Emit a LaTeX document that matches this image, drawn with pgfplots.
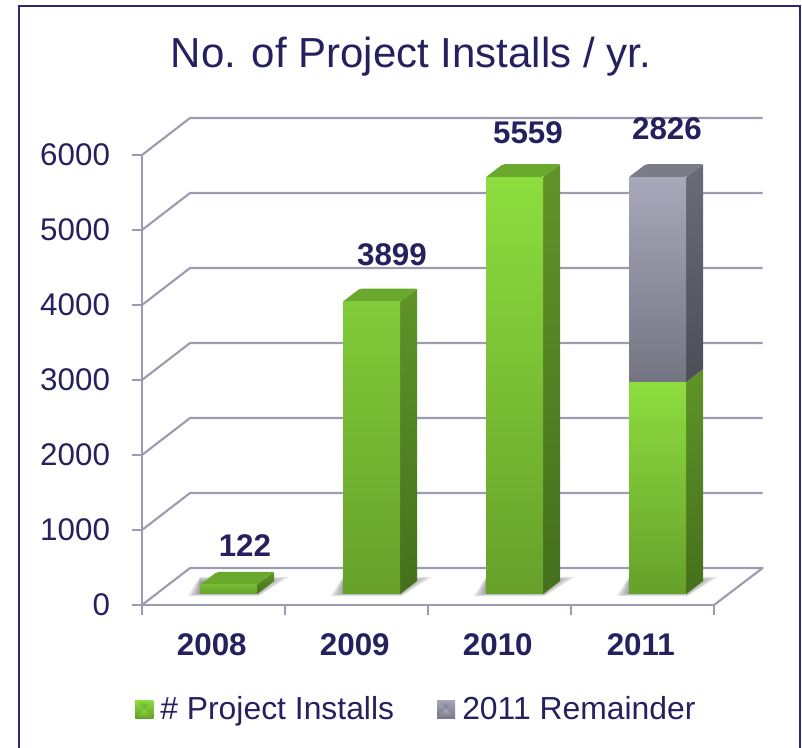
\documentclass[border=0pt]{standalone}
\usepackage{pgfplots}
\pgfplotsset{compat=1.18}
\usepackage{fontspec}
\setmainfont{Liberation Sans}
\definecolor{navy}{HTML}{25215F}
\definecolor{frameblue}{HTML}{2E2A72}
\definecolor{gridc}{HTML}{9C9CB0}
\definecolor{gTop}{HTML}{8DDD3F}
\definecolor{gBot}{HTML}{66A02A}
\definecolor{gsTop}{HTML}{5F9428}
\definecolor{gsBot}{HTML}{44701C}
\definecolor{gCap}{HTML}{6BA82E}
\definecolor{yTop}{HTML}{A9A8BA}
\definecolor{yBot}{HTML}{757482}
\definecolor{ysTop}{HTML}{6C6C78}
\definecolor{ysBot}{HTML}{4D4D58}
\definecolor{yCap}{HTML}{7C7B88}
\newcommand{\fs}[1]{\fontsize{#1}{#1}\selectfont}
\pgfplotsset{
  common/.style={
    scale only axis, width=429pt, height=337.5pt,
    xmin=0, xmax=4, ymin=0, ymax=6000, clip=false
  },
  grid line/.style={draw=gridc, line width=1.6pt, no markers, forget plot, line join=round},
  shadow/.style={draw=none, fill=black, fill opacity=0.11, no markers, forget plot},
  green bar/.style={ybar, bar width=42.75pt, bar shift=0pt, draw=none,
    top color=gTop, bottom color=gBot, forget plot}
}
\begin{document}
\begin{tikzpicture}[x=1pt,y=1pt]
\path[use as bounding box] (0,0) rectangle (601.5,561);
\draw[frameblue, line width=1.7pt] (14.5,-2) -- (14.5,556.5) -- (600,556.5) -- (600,-2);

% Axes, gridlines and floor
\begin{axis}[common,
  at={(106.5pt,107.25pt)}, anchor=south west,
  axis lines=left, axis line style={-, draw=gridc, line width=1.6pt},
  xtick={0,1,2,3,4}, x tick label as interval,
  xticklabels={2008,2009,2010,2011},
  ytick={0,1000,2000,3000,4000,5000,6000},
  tick align=outside, major tick length=7.5pt,
  tick style={draw=gridc, line width=1.4pt},
  /pgf/number format/assume math mode=true,
  /pgf/number format/1000 sep={},
  yticklabel style={text=navy, font=\fs{23.5}, xshift=-13pt},
  xticklabel style={text=navy, font=\fs{23.5}\bfseries, yshift=-10.5pt, xshift=-1.3pt},
  title={No. of Project Installs / yr.},
  title style={at={(0.470,1.2)}, anchor=center, text=navy, font=\fs{31.5}},
]
\addplot[grid line] coordinates {(0,0)(0.3357,493)(4.34,493)(4,0)};
\addplot[grid line] coordinates {(0,1000)(0.3357,1493)(4.34,1493)};
\addplot[grid line] coordinates {(0,2000)(0.3357,2493)(4.34,2493)};
\addplot[grid line] coordinates {(0,3000)(0.3357,3493)(4.34,3493)};
\addplot[grid line] coordinates {(0,4000)(0.3357,4493)(4.34,4493)};
\addplot[grid line] coordinates {(0,5000)(0.3357,5493)(4.34,5493)};
\addplot[grid line] coordinates {(0,6000)(0.3357,6493)(4.34,6493)};
\end{axis}

% Shadows, side faces, caps, three single bars, data labels
\begin{axis}[common, hide axis,
  at={(117.75pt,115.5pt)}, anchor=south west]
% shadows
\addplot[shadow] coordinates {(0.217,-27)(0.71,-27)(0.92,227)(0.30,227)} --cycle;
\addplot[shadow] coordinates {(0.24,-15)(0.71,-15)(0.88,210)(0.30,210)} --cycle;
\addplot[shadow] coordinates {(0.265,-5)(0.71,-5)(0.84,195)(0.30,195)} --cycle;
\addplot[shadow] coordinates {(0.29,0)(0.70,0)(0.81,175)(0.30,175)} --cycle;
\addplot[shadow] coordinates {(1.217,-27)(1.71,-27)(1.92,227)(1.30,227)} --cycle;
\addplot[shadow] coordinates {(1.24,-15)(1.71,-15)(1.88,210)(1.30,210)} --cycle;
\addplot[shadow] coordinates {(1.265,-5)(1.71,-5)(1.84,195)(1.30,195)} --cycle;
\addplot[shadow] coordinates {(1.29,0)(1.70,0)(1.81,175)(1.30,175)} --cycle;
\addplot[shadow] coordinates {(2.217,-27)(2.71,-27)(2.92,227)(2.30,227)} --cycle;
\addplot[shadow] coordinates {(2.24,-15)(2.71,-15)(2.88,210)(2.30,210)} --cycle;
\addplot[shadow] coordinates {(2.265,-5)(2.71,-5)(2.84,195)(2.30,195)} --cycle;
\addplot[shadow] coordinates {(2.29,0)(2.70,0)(2.81,175)(2.30,175)} --cycle;
\addplot[shadow] coordinates {(3.217,-27)(3.71,-27)(3.92,227)(3.30,227)} --cycle;
\addplot[shadow] coordinates {(3.24,-15)(3.71,-15)(3.88,210)(3.30,210)} --cycle;
\addplot[shadow] coordinates {(3.265,-5)(3.71,-5)(3.84,195)(3.30,195)} --cycle;
\addplot[shadow] coordinates {(3.29,0)(3.70,0)(3.81,175)(3.30,175)} --cycle;
% side faces
\addplot[draw=none, top color=gsTop, bottom color=gsBot, forget plot] coordinates {(0.7,0)(0.819,173)(0.819,295)(0.7,122)} --cycle;
\addplot[draw=none, top color=gsTop, bottom color=gsBot, forget plot] coordinates {(1.7,0)(1.819,173)(1.819,4072)(1.7,3899)} --cycle;
\addplot[draw=none, top color=gsTop, bottom color=gsBot, forget plot] coordinates {(2.7,0)(2.819,173)(2.819,5732)(2.7,5559)} --cycle;
\addplot[draw=none, top color=gsTop, bottom color=gsBot, forget plot] coordinates {(3.7,0)(3.819,173)(3.819,2999)(3.7,2826)} --cycle;
\addplot[draw=none, top color=ysTop, bottom color=ysBot, forget plot] coordinates {(3.7,2826)(3.819,2999)(3.819,5732)(3.7,5559)} --cycle;
% caps
\addplot[draw=none, fill=gCap, rounded corners=1.5pt, forget plot] coordinates {(0.3,122)(0.7,122)(0.819,295)(0.419,295)} --cycle;
\addplot[draw=none, fill=gCap, rounded corners=1.5pt, forget plot] coordinates {(1.3,3899)(1.7,3899)(1.819,4072)(1.419,4072)} --cycle;
\addplot[draw=none, fill=gCap, rounded corners=1.5pt, forget plot] coordinates {(2.3,5559)(2.7,5559)(2.819,5732)(2.419,5732)} --cycle;
\addplot[draw=none, fill=yCap, rounded corners=1.5pt, forget plot] coordinates {(3.3,5559)(3.7,5559)(3.819,5732)(3.419,5732)} --cycle;
% front faces 2008-2010, each its own plot so that each has its own gradient
\addplot[green bar, top color=gTop!45!gBot] coordinates {(0.5,122)};
\addplot[green bar, top color=gTop!70!gBot] coordinates {(1.5,3899)};
\addplot[green bar] coordinates {(2.5,5559)};
% data labels
\addplot[draw=none, no markers, forget plot, point meta=explicit symbolic,
  nodes near coords={\pgfplotspointmeta},
  every node near coord/.style={anchor=center, text=navy, font=\fs{23.5}\bfseries}]
  table[meta=l] {
x y l
0.615 640 122
1.643 4520 3899
2.594 6147 5559
3.566 6200 2826
};
\end{axis}

% 2011: stacked bars, and the legend
\begin{axis}[common, hide axis, ybar stacked, bar width=42.75pt,
  at={(117.75pt,115.5pt)}, anchor=south west,
  legend columns=2,
  legend style={at={(-0.038,-0.2556)}, anchor=west, draw=none, fill=none,
    font=\fs{23.9}, text=navy, inner sep=0pt, outer sep=0pt,
    /tikz/every even column/.append style={column sep=30.3pt}},
  legend cell align=left]
\addplot[draw=none, bar shift=0pt, top color=gTop, bottom color=gBot,
  legend image code/.code={
    \path (0pt,0pt) -- (16.8pt,0pt);
    \fill[gBot!85!gTop] (0pt,-6.75pt) rectangle (13.5pt,6.75pt);
    \fill[gTop!70!white] (0pt,6.75pt) -- (13.5pt,6.75pt) -- (6.75pt,0pt) -- cycle;
    \fill[gBot!85!black] (0pt,-6.75pt) -- (13.5pt,-6.75pt) -- (6.75pt,0pt) -- cycle;
  }]
  coordinates {(3.5,2826)};
\addlegendentry{\# Project Installs}
\addplot[draw=none, bar shift=0pt, top color=yTop, bottom color=yBot,
  legend image code/.code={
    \path (0pt,0pt) -- (16.8pt,0pt);
    \fill[yBot] (0pt,-6.75pt) rectangle (13.5pt,6.75pt);
    \fill[yTop!70!white] (0pt,6.75pt) -- (13.5pt,6.75pt) -- (6.75pt,0pt) -- cycle;
    \fill[yTop] (0pt,-6.75pt) -- (13.5pt,-6.75pt) -- (6.75pt,0pt) -- cycle;
  }]
  coordinates {(3.5,2733)};
\addlegendentry{2011 Remainder}
\end{axis}
\end{tikzpicture}
\end{document}
